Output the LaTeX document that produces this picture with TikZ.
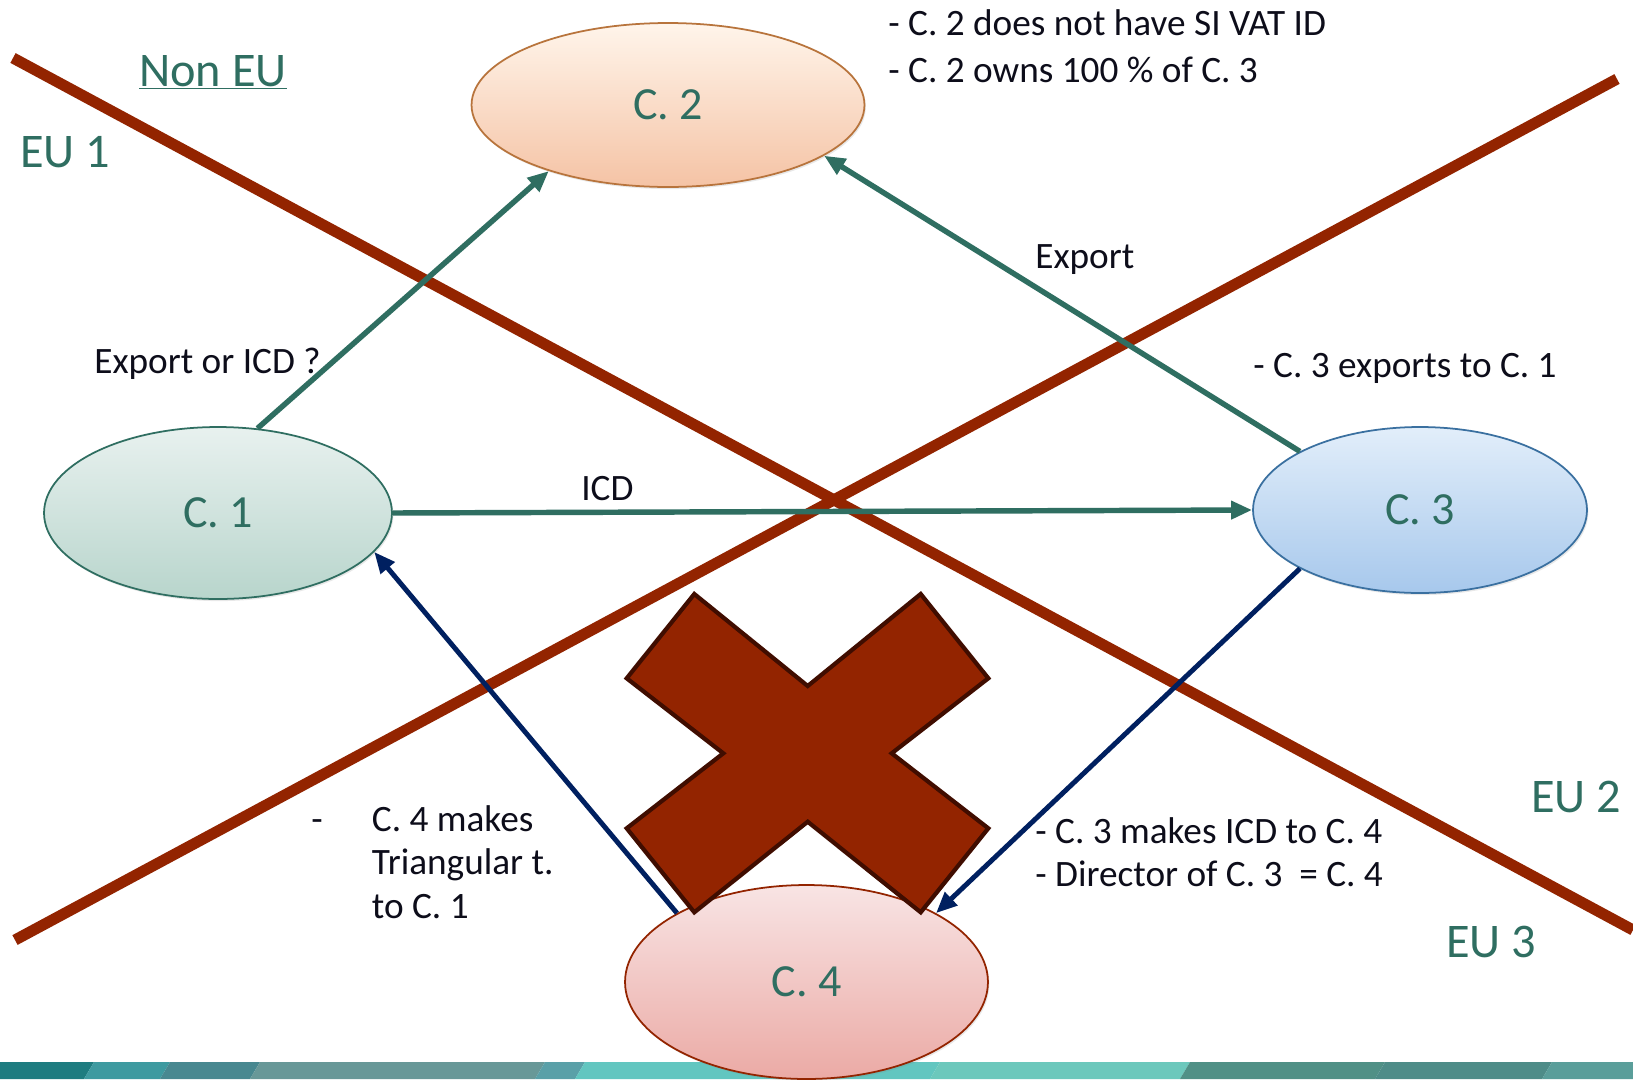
\documentclass[tikz,border=0pt]{standalone}
\usepackage{fontspec}
\setmainfont{Carlito}
\usepackage{xcolor}
\usetikzlibrary{positioning, arrows.meta, shapes.geometric, shadows}

\definecolor{borderred}{RGB}{147,36,0}
\definecolor{crossedge}{RGB}{64,13,0}
\definecolor{tealtext}{RGB}{47,110,97}
\definecolor{navyline}{RGB}{0,32,96}
\definecolor{notetext}{RGB}{13,13,26}
\definecolor{strip1}{RGB}{30,124,128}
\definecolor{strip2}{RGB}{62,154,160}
\definecolor{strip3}{RGB}{72,136,144}
\definecolor{strip4}{RGB}{104,152,152}
\definecolor{strip5}{RGB}{90,160,168}
\definecolor{strip6}{RGB}{98,198,192}
\definecolor{strip7}{RGB}{108,200,188}
\definecolor{strip8}{RGB}{80,144,134}
\definecolor{strip9}{RGB}{78,140,136}
\definecolor{strip10}{RGB}{90,158,154}

\begin{document}
\begin{tikzpicture}[
        x=0.02cm, y=-0.02cm,
        every node/.style={inner sep=0pt},
        company/.style={ellipse, draw, line width=1pt, text=tealtext, font=\fontsize{26.2}{31}\selectfont,
            drop shadow={shadow xshift=0.8pt, shadow yshift=-1.2pt, opacity=0.18}},
        region/.style={text=tealtext, font=\fontsize{27.5}{33}\selectfont},
        note/.style={text=notetext, font=\fontsize{21.2}{25}\selectfont},
        border/.style={draw=borderred, line width=6.3pt},
        cross/.style={fill=borderred, draw=crossedge, line width=2.4pt},
        tealarrow/.style={draw=tealtext, line width=3.1pt, -{Triangle[length=12pt, width=10pt]}},
        navyarrow/.style={draw=navyline, line width=2.8pt, -{Triangle[length=12pt, width=10pt]}}
    ]
    \useasboundingbox (0,0) rectangle (1633,1079);
    \fill[white] (0,0) rectangle (1633,1079);

    % Bottom strip
    \foreach \xa/\xb/\col in {0/94/strip1, 94/170/strip2, 170/260/strip3, 260/545/strip4, 545/585/strip5,
        585/940/strip6, 940/1190/strip7, 1190/1385/strip8, 1385/1552/strip9, 1552/1650/strip10}
        \fill[\col] (\xa,1062) -- (\xb,1062) -- (\xb-10,1079) -- (\xa-10,1079) -- cycle;

    % Borders
    \draw[border] (13,58) -- (1633,930);
    \draw[border] (15,940) -- (1617,79);

    % Nodes
    \node[company, top color=orange!8, bottom color={rgb,255:red,245;green,195;blue,165}, draw={rgb,255:red,184;green,116;blue,60},
        minimum width=7.86cm, minimum height=3.28cm] (c2) at (668,105) {C. 2};
    \node[company, top color={rgb,255:red,232;green,241;blue,239}, bottom color={rgb,255:red,184;green,213;blue,204}, draw=tealtext,
        minimum width=6.96cm, minimum height=3.44cm] (c1) at (218,513) {C. 1};
    \node[company, top color={rgb,255:red,226;green,238;blue,250}, bottom color={rgb,255:red,167;green,200;blue,236}, draw={rgb,255:red,58;green,112;blue,160},
        minimum width=6.68cm, minimum height=3.32cm] (c3) at (1420,510) {C. 3};
    \node[company, top color={rgb,255:red,248;green,228;blue,228}, bottom color={rgb,255:red,235;green,170;blue,165}, draw=borderred,
        minimum width=7.26cm, minimum height=3.88cm] (c4) at (806.5,982) {C. 4};

    % Cross
    \draw[cross] (694.3,594) -- (807.7,686) -- (920.7,594) -- (988.3,678.3) -- (891.7,753.3) -- (988.3,828.3)
        -- (920.7,912.3) -- (807.7,821.7) -- (694.3,912.3) -- (626.7,828.3) -- (723.3,753.3) -- (626.7,678.3) -- cycle;

    % Labels
    \node[region, anchor=base] (noneu) at (213,86) {\underline{Non EU}};
    \node[region, anchor=base west] (eu1) at (20,167) {EU 1};
    \node[region, anchor=base west] (eu2) at (1531,812) {EU 2};
    \node[region, anchor=base west] (eu3) at (1446,957) {EU 3};
    \node[note, anchor=base west, font=\fontsize{21.2}{27}\selectfont] (c2info) at (888,35)
        {\begin{tabular}[t]{@{}l@{}}- C. 2 does not have SI VAT ID\\- C. 2 owns 100 \% of C. 3\end{tabular}};
    \node[note, anchor=base west] (exportlbl) at (1035,268) {Export};
    \node[note, anchor=base west] (c3info) at (1253,377) {- C. 3 exports to C. 1};
    \node[note, anchor=base west] (questionlbl) at (94,373) {Export or ICD ?};
    \node[note, anchor=base west] (icdlbl) at (581,500) {ICD};
    \node[note, anchor=base west] (c4info) at (311,831)
        {\begin{tabular}[t]{@{}l@{\hspace{28pt}}l@{}}-&C. 4 makes\\&Triangular t.\\&to C. 1\end{tabular}};
    \node[note, anchor=base west] (c3c4info) at (1035,843)
        {\begin{tabular}[t]{@{}l@{}}- C. 3 makes ICD to C. 4\\- Director of C. 3\ \ = C. 4\end{tabular}};

    % Arrows
    \draw[tealarrow] (c1.65) -- (c2.209);
    \draw[tealarrow] (c3.154) -- (c2.342);
    \draw[tealarrow] (c1.east) -- (c3.west);
    \draw[navyarrow] (c4.152) -- (c1.346);
    \draw[navyarrow] (c3.206) -- (c4.28);

\end{tikzpicture}
\end{document}
